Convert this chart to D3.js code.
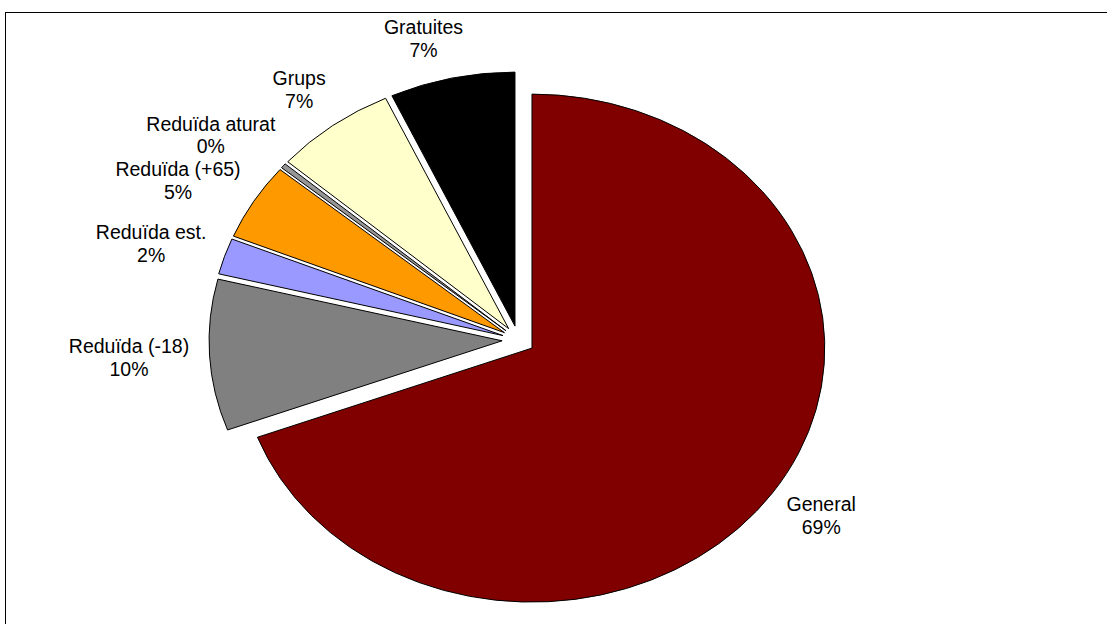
<!DOCTYPE html>
<html>
<head>
<meta charset="utf-8">
<script src="https://cdn.jsdelivr.net/npm/d3@7"></script>
<style>
html,body{margin:0;padding:0;background:#fff;}
svg{display:block;}
text{font-family:"Liberation Sans",Arial,sans-serif;}
</style>
</head>
<body>
<svg id="chart" width="1107" height="624"></svg>
<script>
// ---- data ----
const categories = ["General", "Reduïda (-18)", "Reduïda est.", "Reduïda (+65)", "Reduïda aturat", "Grups", "Gratuites"];
const values = [69.3, 9.6, 2.3, 4.9, 0.3, 6.7, 6.9];
const colors = ["#800000", "#808080", "#9999FF", "#FF9900", "#969696", "#FFFFCC", "#000000"];

// ---- layout ----
const W = 1107, H = 624;
const cx = 518.5, cy = 340;      // pie centre
const rx = 293, ry = 254;        // elliptical radii
const explode = 0.056;           // explosion as fraction of radius
const fontSize = 19.5, lineH = 22.5;
const labelK = 1.07;

const svg = d3.select("#chart");

// outer chart border
svg.append("rect")
  .attr("x", 5.5).attr("y", 12.5)
  .attr("width", W + 10).attr("height", H + 10)
  .attr("fill", "#fff").attr("stroke", "#000").attr("stroke-width", 1);

const data = categories.map((c, i) => ({name: c, value: values[i], color: colors[i]}));
const total = d3.sum(values);

const pie = d3.pie().sort(null).value(d => d.value).startAngle(0).endAngle(2 * Math.PI);
const arcs = pie(data);
const arc = d3.arc().innerRadius(0).outerRadius(1);

function tipOf(a) {
  const m = (a.startAngle + a.endAngle) / 2;
  return [cx + explode * rx * Math.sin(m), cy - explode * ry * Math.cos(m), m];
}

const slices = svg.append("g");
arcs.forEach(a => {
  const [tx, ty] = tipOf(a);
  slices.append("g")
    .attr("transform", `translate(${tx},${ty}) scale(${rx},${ry})`)
    .append("path")
    .attr("d", arc(a))
    .attr("fill", a.data.color)
    .attr("stroke", "#000")
    .attr("stroke-width", 1)
    .attr("vector-effect", "non-scaling-stroke")
    .attr("stroke-linejoin", "round");
});

// labels
const labels = svg.append("g");
const measure = svg.append("text").attr("font-size", fontSize).attr("visibility", "hidden");
const items = [];
arcs.forEach(a => {
  const [tx, ty, m] = tipOf(a);
  const s = Math.sin(m), c = -Math.cos(m);
  const name = a.data.name;
  const pct = Math.round(a.data.value / total * 100) + "%";
  measure.text(name);
  const w = Math.max(measure.node().getComputedTextLength(), 30);
  const h = lineH * 2;
  const sign = s >= 0 ? 1 : -1;
  const lx = tx + s * rx * labelK + (w / 2) * sign * (Math.abs(s) + 1) / 2;
  const ly = ty + c * (ry * labelK + h / 2);
  const t = labels.append("text")
    .attr("text-anchor", "middle")
    .attr("font-size", fontSize)
    .attr("fill", "#000");
  const t1 = t.append("tspan").attr("x", lx).attr("dy", "0.35em").text(name);
  const t2 = t.append("tspan").attr("x", lx).attr("dy", "0.35em").text(pct);
  items.push({t, t1, t2, ly, left: s < 0});
});
measure.remove();

function place(it) {
  it.t1.attr("y", it.ly - lineH / 2);
  it.t2.attr("y", it.ly + lineH / 2);
}
items.forEach(place);

// simple overlap resolution on the left side: push upper labels up
const leftItems = items.filter(d => d.left).sort((a, b) => b.ly - a.ly);
for (let i = 1; i < leftItems.length; i++) {
  const lower = leftItems[i - 1].t.node().getBBox();
  const upper = leftItems[i].t.node().getBBox();
  const horizOverlap = upper.x < lower.x + lower.width && lower.x < upper.x + upper.width;
  const over = upper.y + upper.height - lower.y + 1;
  if (horizOverlap && over > 0) {
    leftItems[i].ly -= over;
    place(leftItems[i]);
  }
}
</script>
</body>
</html>
